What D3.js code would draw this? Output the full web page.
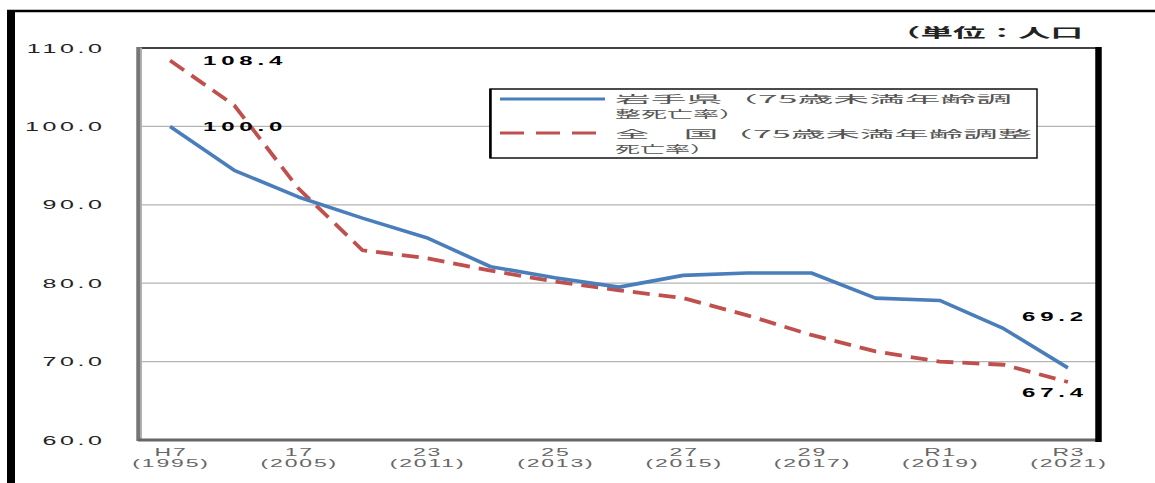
<!DOCTYPE html>
<html>
<head>
<meta charset="utf-8">
<script src="https://cdn.jsdelivr.net/npm/d3@7"></script>
<style>
  body { margin: 0; background: #fff; }
  svg { display: block; }
</style>
</head>
<body>
<div id="chart"></div>
<script>
// categories (one point per survey year, label only on every other one)
var periods = ["H7", "H12", "H17", "H20", "H23", "H24", "H25", "H26", "H27", "H28", "H29", "H30", "R1", "R2", "R3"];
var tickTop = ["H7", "", "17", "", "23", "", "25", "", "27", "", "29", "", "R1", "", "R3"];
var tickBottom = ["(1995)", "", "(2005)", "", "(2011)", "", "(2013)", "", "(2015)", "", "(2017)", "", "(2019)", "", "(2021)"];

// 75歳未満年齢調整死亡率 (H7 = 100)
var iwate = [100.0, 94.4, 91.0, 88.3, 85.8, 82.1, 80.7, 79.5, 81.0, 81.3, 81.3, 78.1, 77.8, 74.2, 69.2];
var national = [108.4, 102.7, 92.1, 84.2, 83.2, 81.6, 80.2, 79.1, 78.1, 75.9, 73.4, 71.3, 70.0, 69.6, 67.4];

var yTicks = [60, 70, 80, 90, 100, 110];
var legendLines1 = ["岩手県（75歳未満年齢調", "整死亡率）"];
var legendLines2 = ["全　国（75歳未満年齢調整", "死亡率）"];
var unitText = "（単位：人口";

var W = 1155, H = 483;
var plot = {left: 138, right: 1100, top: 48, bottom: 440};

var svg = d3.select('#chart').append('svg')
    .attr('width', W)
    .attr('height', H);

var x = d3.scalePoint()
    .domain(periods)
    .range([plot.left, plot.right])
    .padding(0.5);

var y = d3.scaleLinear()
    .domain([60, 110])
    .range([plot.bottom, plot.top]);

// text is squashed wide in the source picture, so stretch it horizontally
function wideText(g, px, py, str, o) {
  var t = g.append('text')
      .attr('transform', 'translate(' + px + ',' + py + ') scale(' + (o.sx || 2) + ',1)')
      .attr('font-family', o.family || "'Liberation Sans', Arial, sans-serif")
      .attr('font-size', o.size || 12)
      .attr('font-weight', o.weight || 'normal')
      .attr('fill', o.fill || '#222')
      .attr('text-anchor', o.anchor || 'start')
      .text(str);
  if (o.ls) t.attr('letter-spacing', o.ls);
  if (o.len) t.attr('textLength', o.len).attr('lengthAdjust', 'spacingAndGlyphs');
  return t;
}

// outer frame
svg.append('rect').attr('x', 7).attr('y', 10).attr('width', 8).attr('height', H - 10).attr('fill', '#000');
svg.append('line').attr('x1', 7).attr('x2', W).attr('y1', 11).attr('y2', 11)
    .attr('stroke', '#000').attr('stroke-width', 2.5);

// unit note
wideText(svg, 888, 37, unitText, {family: "'Noto Sans CJK JP', sans-serif", size: 13, weight: 'bold', fill: '#222', sx: 1, len: 195});

// gridlines
svg.append('g').selectAll('line')
    .data(yTicks.filter(function (d) { return d > 60 && d < 110; }))
    .enter().append('line')
    .attr('x1', plot.left + 4)
    .attr('x2', plot.right - 4)
    .attr('y1', function (d) { return y(d); })
    .attr('y2', function (d) { return y(d); })
    .attr('stroke', '#b4b4b4')
    .attr('stroke-width', 1.2);

// plot border: thin top, grey left/bottom, heavy black right
svg.append('line').attr('x1', plot.left).attr('x2', plot.right).attr('y1', plot.top).attr('y2', plot.top)
    .attr('stroke', '#444').attr('stroke-width', 2);
svg.append('line').attr('x1', 139).attr('x2', 139).attr('y1', plot.top - 1).attr('y2', plot.bottom + 1)
    .attr('stroke', '#777').attr('stroke-width', 5.5);
svg.append('line').attr('x1', 141).attr('x2', 141).attr('y1', plot.top).attr('y2', plot.bottom)
    .attr('stroke', '#bbb').attr('stroke-width', 1.5);
svg.append('line').attr('x1', plot.left).attr('x2', plot.right).attr('y1', plot.bottom).attr('y2', plot.bottom)
    .attr('stroke', '#666').attr('stroke-width', 3);
svg.append('line').attr('x1', 1098.5).attr('x2', 1098.5).attr('y1', plot.top - 1).attr('y2', plot.bottom + 2)
    .attr('stroke', '#000').attr('stroke-width', 6.5);

// y axis labels
var yLab = svg.append('g');
yTicks.forEach(function (v) {
  wideText(yLab, 105.5, y(v) + 4.5, d3.format('.1f')(v), {size: 12.5, ls: 1.8, anchor: 'end', fill: '#222'});
});

// x axis labels
var xLab = svg.append('g');
periods.forEach(function (p, i) {
  if (!tickTop[i]) return;
  wideText(xLab, x(p) + 1, 456, tickTop[i], {size: 10, sx: 2.3, ls: 0.8, anchor: 'middle', fill: '#666'});
  wideText(xLab, x(p) + 1, 467, tickBottom[i], {size: 10, sx: 2.3, ls: 0.8, anchor: 'middle', fill: '#666'});
});

// series
var line = d3.line()
    .x(function (d, i) { return x(periods[i]); })
    .y(function (d) { return y(d); });

svg.append('path')
    .datum(national)
    .attr('d', line)
    .attr('fill', 'none')
    .attr('stroke', '#c0504d')
    .attr('stroke-width', 3.8)
    .attr('stroke-dasharray', '17,9');

svg.append('path')
    .datum(iwate)
    .attr('d', line)
    .attr('fill', 'none')
    .attr('stroke', '#4a7ebb')
    .attr('stroke-width', 3.6)
    .attr('stroke-linejoin', 'round');

// value labels
var vLab = svg.append('g');
var last = periods.length - 1;
var lb = {size: 12, weight: 'bold', ls: 2.4, fill: '#000'};
wideText(vLab, x(periods[0]) + 33, y(national[0]) + 4.5, d3.format('.1f')(national[0]), lb);
wideText(vLab, x(periods[0]) + 33, y(iwate[0]) + 4.5, d3.format('.1f')(iwate[0]), lb);
wideText(vLab, x(periods[last]) + 20, y(iwate[last]) - 47, d3.format('.1f')(iwate[last]), Object.assign({anchor: 'end'}, lb));
wideText(vLab, x(periods[last]) + 20, y(national[last]) + 15, d3.format('.1f')(national[last]), Object.assign({anchor: 'end'}, lb));

// legend
var leg = svg.append('g');
leg.append('rect')
    .attr('x', 490).attr('y', 89).attr('width', 547).attr('height', 69)
    .attr('fill', '#fff').attr('stroke', '#111').attr('stroke-width', 1.5);
leg.append('line').attr('x1', 490.5).attr('x2', 490.5).attr('y1', 89).attr('y2', 158)
    .attr('stroke', '#000').attr('stroke-width', 2.5);
leg.append('line').attr('x1', 500).attr('x2', 605).attr('y1', 99).attr('y2', 99)
    .attr('stroke', '#4a7ebb').attr('stroke-width', 3);
leg.append('line').attr('x1', 500).attr('x2', 598).attr('y1', 133).attr('y2', 133)
    .attr('stroke', '#c0504d').attr('stroke-width', 3).attr('stroke-dasharray', '24,12');

var cjk = {family: "'Noto Sans CJK JP', sans-serif", size: 10.5, fill: '#555', sx: 1};
wideText(leg, 615, 103, legendLines1[0], Object.assign({len: 397}, cjk));
wideText(leg, 615, 118, legendLines1[1], Object.assign({len: 130}, cjk));
wideText(leg, 615, 138, legendLines2[0], Object.assign({len: 417}, cjk));
wideText(leg, 615, 152.5, legendLines2[1], Object.assign({len: 100}, cjk));
</script>
</body>
</html>
